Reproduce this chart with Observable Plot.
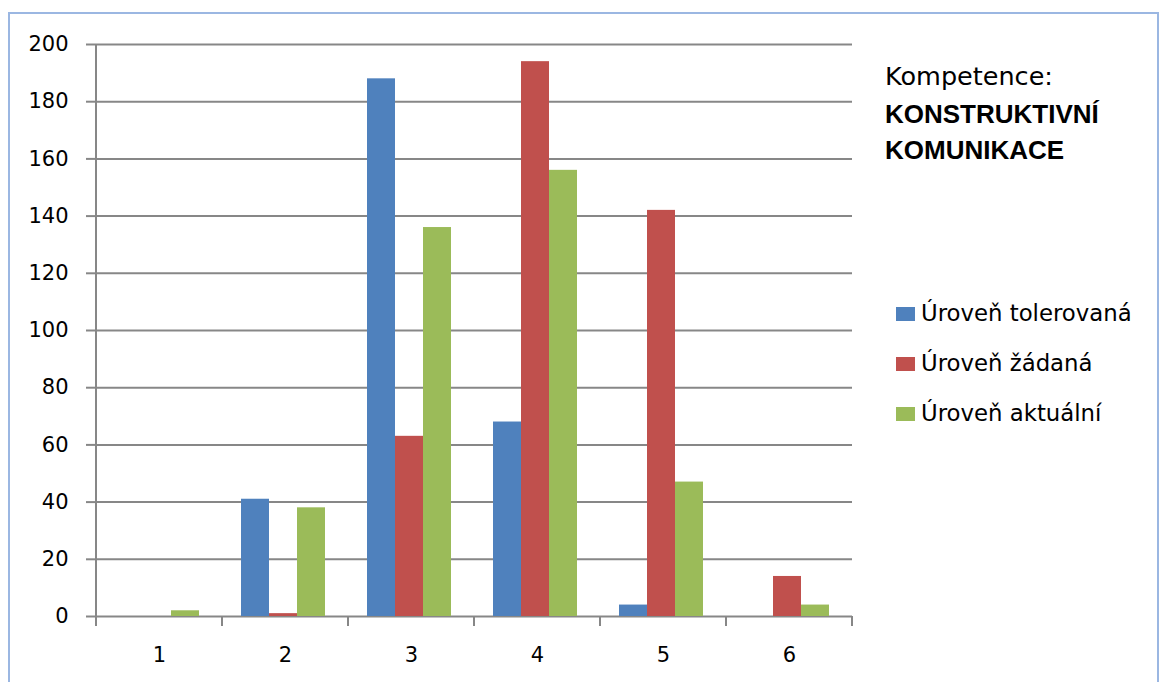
<!DOCTYPE html>
<html>
<head>
<meta charset="utf-8">
<script src="https://cdn.jsdelivr.net/npm/d3@7"></script>
<script src="https://cdn.jsdelivr.net/npm/@observablehq/plot@0.6"></script>
<style>
  body { margin: 0; background: #fff; }
  #wrap { position: relative; width: 1159px; height: 682px; overflow: hidden; background: #fff; }
  #border { position: absolute; left: 8px; top: 12px; width: 1151px; height: 720px;
            border: 2px solid #9bb7e2; box-sizing: border-box; }
  #wrap svg { position: absolute; left: 0; top: 0; }
</style>
</head>
<body>
<div id="wrap"><div id="border"></div></div>
<script>
// Competence levels (categories) and the three series counted at each level
const categories = ["1", "2", "3", "4", "5", "6"];
const seriesNames = ["Úroveň tolerovaná", "Úroveň žádaná", "Úroveň aktuální"];
const tolerovana = [0, 41, 188, 68, 4, 0];
const zadana = [0, 1, 63, 194, 142, 14];
const aktualni = [2, 38, 136, 156, 47, 4];
const seriesColors = ["#4f81bd", "#c0504d", "#9bbb59"];
const yTicks = [0, 20, 40, 60, 80, 100, 120, 140, 160, 180, 200];
const titleLines = ["Kompetence:", "KONSTRUKTIVNÍ", "KOMUNIKACE"];

const seriesValues = [tolerovana, zadana, aktualni];
const rows = categories.flatMap((category, i) =>
  seriesNames.map((series, j) => ({ category, series, value: seriesValues[j][i] }))
);

const axisGray = "#878787";

const chart = Plot.plot({
  width: 1159,
  height: 682,
  marginLeft: 96,
  marginRight: 307,
  marginTop: 44,
  marginBottom: 66,
  style: { fontFamily: "'DejaVu Sans', sans-serif", fontSize: "21px", color: "#000", background: "transparent" },
  fx: { domain: categories, padding: 0, label: null },
  x: { domain: seriesNames, paddingInner: 0, paddingOuter: 0.75, align: 0.45, axis: null },
  y: { domain: [0, 200], label: null },
  color: { domain: seriesNames, range: seriesColors },
  marks: [
    Plot.gridY(yTicks, { stroke: axisGray, strokeOpacity: 1, strokeWidth: 2 }),
    Plot.barY(rows, { fx: "category", x: "series", y: "value", fill: "series" }),
    Plot.axisY(yTicks, {
      tickSize: 10, tickPadding: 18, stroke: axisGray, strokeWidth: 2,
      fill: "#000", fontSize: 21, label: null
    }),
    Plot.axisFx({ anchor: "bottom", tickSize: 0, tickPadding: 31, fontSize: 21, fill: "#000", label: null })
  ]
});

const wrap = document.getElementById("wrap");
wrap.appendChild(chart);

// Value axis line and category boundary ticks, placed from the plot's scales
const fx = chart.scale("fx");
const y = chart.scale("y");
const y0 = y.apply(0);
const yTop = y.apply(200);
const bounds = categories.map(c => fx.apply(c)).concat([fx.apply(categories[categories.length - 1]) + fx.bandwidth]);
const svg = d3.select(chart);
const g = svg.append("g").attr("stroke", axisGray).attr("stroke-width", 2);
g.append("line").attr("x1", bounds[0]).attr("x2", bounds[0]).attr("y1", yTop).attr("y2", y0 + 10);
g.selectAll("line.tick").data(bounds).join("line")
  .attr("class", "tick")
  .attr("x1", d => d).attr("x2", d => d)
  .attr("y1", y0).attr("y2", y0 + 10);

// Title and legend on the right
const color = chart.scale("color");
const side = d3.select(wrap).append("svg").attr("width", 1159).attr("height", 682);
side.append("text").attr("x", 885).attr("y", 85)
  .attr("font-family", "'DejaVu Sans', sans-serif").attr("font-size", 25.5).attr("fill", "#000")
  .text(titleLines[0]);
side.selectAll("text.bold").data(titleLines.slice(1)).join("text")
  .attr("class", "bold")
  .attr("x", 885).attr("y", (d, i) => 123 + i * 36)
  .attr("font-family", "'Liberation Sans', Arial, sans-serif").attr("font-weight", "bold")
  .attr("font-size", 26).attr("fill", "#000")
  .text(d => d);

const item = side.selectAll("g.item").data(seriesNames).join("g")
  .attr("class", "item")
  .attr("transform", (d, i) => `translate(896, ${321 + i * 50})`);
item.append("rect").attr("x", 0).attr("y", -14).attr("width", 19).attr("height", 14)
  .attr("fill", d => color.apply(d));
item.append("text").attr("x", 25).attr("y", 0)
  .attr("font-family", "'DejaVu Sans', sans-serif").attr("font-size", 22.8).attr("fill", "#000")
  .text(d => d);
</script>
</body>
</html>
